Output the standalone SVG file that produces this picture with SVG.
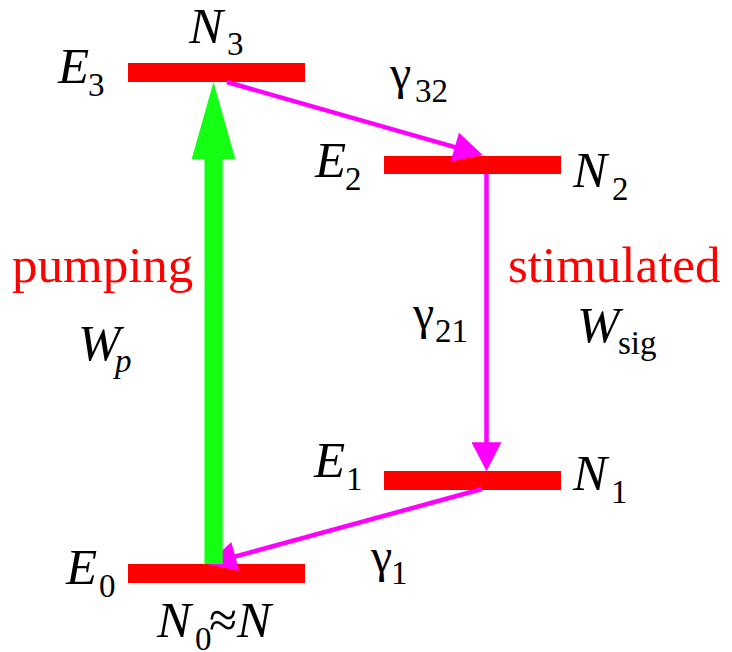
<svg xmlns="http://www.w3.org/2000/svg" width="732" height="652" viewBox="0 0 732 652" font-family="'Liberation Serif', 'DejaVu Serif', serif">
<style>
.bar{fill:#ff0000}
.it{font-style:italic;font-size:51px;fill:#000}
.sub{font-style:normal;font-size:33px;fill:#000}
.subi{font-style:italic;font-size:33px;fill:#000}
.gr{font-size:48px;fill:#000}
.rm{font-size:51px;fill:#000}
.red{font-size:51px;fill:#ff0000}
.mag{stroke:#ff00ff;stroke-width:4.5;fill:none}
.pump{fill:#14ff14}
</style>
<defs>
<marker id="mh" markerUnits="userSpaceOnUse" markerWidth="30" markerHeight="30" refX="8" refY="14.5" orient="auto" viewBox="0 0 28 29">
<path d="M0,0 L28,14.5 L0,29 Z" fill="#ff00ff"/>
</marker>
</defs>
<g id="level-E3">
<rect class="bar" x="128" y="63" width="177" height="19"/>
<text class="it" x="58" y="83">E</text><text class="sub" x="88" y="96">3</text>
<text class="it" x="189" y="43">N</text><text class="sub" x="227" y="55">3</text>
</g>
<g id="level-E2">
<rect class="bar" x="384" y="156" width="177" height="18"/>
<text class="it" x="315" y="177">E</text><text class="sub" x="345" y="190">2</text>
<text class="it" x="573" y="187">N</text><text class="sub" x="612" y="200">2</text>
</g>
<g id="level-E1">
<rect class="bar" x="384" y="471" width="177" height="19"/>
<text class="it" x="314" y="477">E</text><text class="sub" x="346" y="490">1</text>
<text class="it" x="573" y="490">N</text><text class="sub" x="611" y="503">1</text>
</g>
<g id="level-E0">
<rect class="bar" x="128" y="564" width="177" height="19"/>
<text class="it" x="66" y="584">E</text><text class="sub" x="99" y="597">0</text>
<text class="it" x="157" y="637">N</text><text class="sub" x="195" y="650">0</text><text class="rm" x="209" y="637">≈</text><text class="it" x="237" y="637">N</text>
</g>
<g id="connectors">
<line class="mag" x1="227" y1="82" x2="462.8" y2="149.4" marker-end="url(#mh)"/>
<line class="mag" x1="486.5" y1="174" x2="486.5" y2="450.5" marker-end="url(#mh)"/>
<line class="mag" x1="482" y1="489" x2="227.3" y2="558.7" marker-end="url(#mh)"/>
<g id="pump-arrow">
<rect class="pump" x="204.5" y="158" width="18.2" height="406"/>
<polygon class="pump" points="191.7,159 235.3,159 213.5,82"/>
</g>
</g>
<g id="labels">
<text class="gr" x="390" y="89">γ</text><text class="sub" x="415" y="102">32</text>
<text class="gr" x="413" y="329">γ</text><text class="sub" x="435" y="342">21</text>
<text class="gr" x="371" y="572">γ</text><text class="sub" x="391" y="584">1</text>
<text class="red" x="12" y="282">pumping</text>
<text class="red" x="508" y="282">stimulated</text>
<text class="it" x="78" y="360">W</text><text class="subi" x="115" y="372">p</text>
<text class="it" x="577" y="342">W</text><text class="sub" x="618" y="354">sig</text>
</g>
</svg>
